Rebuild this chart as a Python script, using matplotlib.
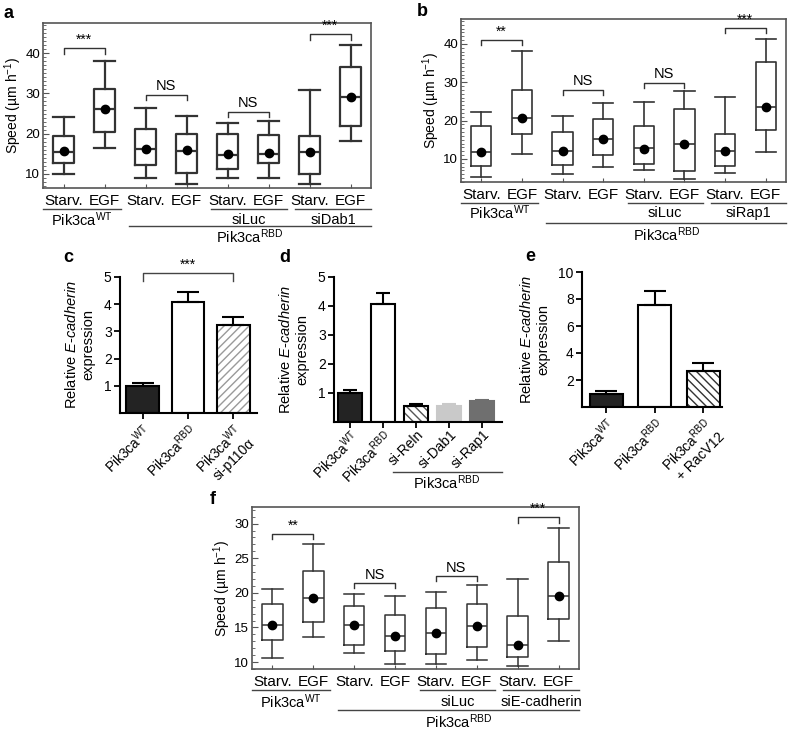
import matplotlib
matplotlib.use("Agg")
import matplotlib.pyplot as plt
from matplotlib.ticker import MultipleLocator

plt.rcParams["font.family"] = ["Liberation Sans", "DejaVu Sans"]
plt.rcParams["mathtext.fontset"] = "custom"
plt.rcParams["mathtext.rm"] = "Liberation Sans"
plt.rcParams["mathtext.it"] = "Liberation Sans:italic"
plt.rcParams["mathtext.default"] = "regular"
plt.rcParams["hatch.linewidth"] = 1.0

# ---- box panels (a, b, f) ----
box_ticklabels = ["Starv.", "EGF"] * 4
WT = "Pik3ca$^{WT}$"
RBD = "Pik3ca$^{RBD}$"

a_med = [15.5, 26.1, 16.1, 15.8, 14.7, 14.9, 15.4, 29.0]
a_q1 = [12.6, 20.4, 12.1, 10.3, 11.1, 12.6, 10.1, 21.9]
a_q3 = [19.4, 31.1, 21.1, 19.8, 19.8, 19.7, 19.5, 36.6]
a_lo = [10.1, 16.4, 8.9, 7.6, 9.1, 9.1, 7.4, 18.2]
a_hi = [24.2, 38.1, 26.3, 24.4, 22.6, 23.2, 30.8, 42.1]
a_mean = [15.6, 26.1, 16.1, 15.9, 14.9, 15.1, 15.4, 29.0]
a_sig = [(1, 2, 41.2, "***"), (3, 4, 29.6, "NS"), (5, 6, 25.4, "NS"), (7, 8, 44.7, "***")]
a_groups = [(WT, 0.5, 2.4, 1), ("siLuc", 4.6, 6.45, 1), ("siDab1", 6.65, 8.5, 1), (RBD, 2.6, 8.5, 2)]

b_med = [11.8, 20.6, 12.2, 15.2, 12.9, 13.8, 12.2, 23.6]
b_q1 = [8.1, 16.4, 8.5, 11.1, 8.7, 6.9, 8.3, 17.5]
b_q3 = [18.7, 28.1, 17.0, 20.3, 18.5, 23.1, 16.6, 35.4]
b_lo = [5.3, 11.4, 6.0, 7.9, 7.2, 4.8, 6.3, 11.9]
b_hi = [22.2, 38.2, 21.2, 24.5, 24.8, 27.7, 26.1, 41.4]
b_mean = [11.8, 20.6, 12.2, 15.2, 12.7, 13.8, 12.2, 23.6]
b_sig = [(1, 2, 41.0, "**"), (3, 4, 28.1, "NS"), (5, 6, 29.9, "NS"), (7, 8, 44.1, "***")]
b_groups = [(WT, 0.5, 2.4, 1), ("siLuc", 4.6, 6.45, 1), ("siRap1", 6.65, 8.5, 1), (RBD, 2.6, 8.5, 2)]

f_med = [15.3, 19.3, 15.4, 13.8, 14.2, 15.2, 12.4, 19.6]
f_q1 = [13.2, 15.85, 12.45, 11.6, 11.2, 12.25, 10.7, 16.2]
f_q3 = [18.35, 23.2, 18.15, 16.75, 17.85, 18.35, 16.65, 24.5]
f_lo = [10.6, 13.65, 11.3, 9.75, 9.75, 10.35, 9.45, 13.1]
f_hi = [20.5, 27.0, 19.8, 19.6, 20.1, 21.1, 22.0, 29.4]
f_mean = [15.3, 19.3, 15.4, 13.8, 14.2, 15.2, 12.4, 19.6]
f_sig = [(1, 2, 28.5, "**"), (3, 4, 21.4, "NS"), (5, 6, 22.4, "NS"), (7, 8, 30.9, "***")]
f_groups = [(WT, 0.5, 2.4, 1), ("siLuc", 4.6, 6.45, 1), ("siE-cadherin", 6.65, 8.5, 1), (RBD, 2.6, 8.5, 2)]

# ---- bar panels (c, d, e) ----
c_labels = [WT, RBD, WT + "\nsi-p110α"]
c_vals = [1.0, 4.07, 3.23]
c_errs = [0.1, 0.38, 0.29]

d_labels = [WT, RBD, "si-Reln", "si-Dab1", "si-Rap1"]
d_vals = [1.0, 4.07, 0.55, 0.55, 0.71]
d_errs = [0.1, 0.37, 0.06, 0.06, 0.06]

e_labels = [WT, RBD, RBD + "\n+ RacV12"]
e_vals = [1.0, 7.53, 2.68]
e_errs = [0.18, 1.06, 0.6]

W, H = 788, 730
fig = plt.figure(figsize=(W / 100, H / 100), dpi=100)

BOXC = "#333333"
FRAME = "#555555"
YLAB_BAR = "Relative $\\mathit{E}$-$\\mathit{cadherin}$\nexpression"


def px_axes(l, t, r, b):
    return fig.add_axes([l / W, 1 - b / H, (r - l) / W, (b - t) / H])


def box_panel(rect, med, q1, q3, lo, hi, mean, ylim, yticks, sig, groups, offs, lw):
    ax = px_axes(*rect)
    h = rect[3] - rect[1]
    stats = []
    for i in range(len(med)):
        stats.append(dict(med=med[i], q1=q1[i], q3=q3[i], whislo=lo[i], whishi=hi[i], mean=mean[i]))
    line = dict(color=BOXC, linewidth=lw)
    ax.bxp(stats, positions=range(1, 9), widths=0.5, capwidths=0.5, showmeans=True,
           showfliers=False, boxprops=line, whiskerprops=line, capprops=line,
           medianprops=line,
           meanprops=dict(marker="o", markerfacecolor="black", markeredgecolor="black", markersize=6))
    ax.set_xlim(0.5, 8.5)
    ax.set_ylim(*ylim)
    ax.set_yticks(yticks)
    ax.yaxis.set_minor_locator(MultipleLocator(1))
    ax.tick_params(axis="y", which="major", direction="in", length=4, labelsize=9.5, color=FRAME, pad=2)
    ax.tick_params(axis="y", which="minor", direction="in", length=2, color=FRAME)
    ax.set_xticks(range(1, 9), box_ticklabels)
    ax.tick_params(axis="x", direction="in", length=3, labelsize=11, color=FRAME, pad=4)
    for s in ax.spines.values():
        s.set_color(FRAME)
        s.set_linewidth(1.2)
    ax.set_ylabel("Speed (µm h$^{-1}$)", fontsize=10, labelpad=1)

    drop = 0.032 * (ylim[1] - ylim[0])
    for x1, x2, y, txt in sig:
        ax.plot([x1, x1, x2, x2], [y - drop, y, y, y - drop], color=BOXC, lw=1.0, clip_on=False)
        if txt == "NS":
            ax.text((x1 + x2) / 2, y + drop * 0.3, txt, ha="center", va="bottom", fontsize=10.5)
        else:
            ax.text((x1 + x2) / 2, y + drop * 0.3, txt, ha="center", va="bottom", fontsize=10)

    tr = ax.get_xaxis_transform()
    for txt, x1, x2, row in groups:
        ly = -offs[2 * (row - 1)] / h
        ty = -offs[2 * (row - 1) + 1] / h
        ax.plot([x1, x2], [ly, ly], color="#444444", lw=1.0, transform=tr, clip_on=False)
        ax.text((x1 + x2) / 2, ty, txt, ha="center", va="center", fontsize=10.5, transform=tr)
    return ax


def bar_panel(rect, labels, vals, errs, ylim, yticks, xlim, width, styles, capsize, xpad=2):
    ax = px_axes(*rect)
    x = list(range(len(vals)))
    for i in x:
        fc, hatch, hc, ec = styles[i]
        if hatch:
            ax.bar(x[i], vals[i], width=width, color=fc, hatch=hatch, edgecolor=hc, linewidth=0)
            ax.bar(x[i], vals[i], width=width, fill=False, edgecolor=ec, linewidth=1.5)
        else:
            ax.bar(x[i], vals[i], width=width, color=fc, edgecolor=ec, linewidth=1.5)
        ax.errorbar(x[i], vals[i], yerr=[[0], [errs[i]]], fmt="none", ecolor=ec,
                    elinewidth=1.5, capsize=capsize, capthick=1.5)
    ax.set_xlim(*xlim)
    ax.set_ylim(*ylim)
    ax.set_yticks(yticks)
    ax.set_xticks(x)
    ax.set_xticklabels(labels, rotation=45, ha="right", va="top", rotation_mode="anchor", fontsize=9)
    ax.spines["top"].set_visible(False)
    ax.spines["right"].set_visible(False)
    for s in ("left", "bottom"):
        ax.spines[s].set_linewidth(1.5)
    ax.tick_params(direction="out", length=4, width=1.3, labelsize=10, pad=2)
    ax.tick_params(axis="x", pad=xpad)
    ax.set_ylabel(YLAB_BAR, fontsize=10.5, labelpad=6)
    return ax


# a
box_panel((43, 23, 371, 188), a_med, a_q1, a_q3, a_lo, a_hi, a_mean, (6.5, 47.5),
          [10, 20, 30, 40], a_sig, a_groups, [21, 32, 38, 49], 1.6)
# b
box_panel((461, 19, 786, 182), b_med, b_q1, b_q3, b_lo, b_hi, b_mean, (4.0, 46.5),
          [10, 20, 30, 40], b_sig, b_groups, [21, 31, 41, 53], 1.2)
# f
box_panel((252, 507, 579, 669), f_med, f_q1, f_q3, f_lo, f_hi, f_mean, (9.0, 32.4),
          [10, 15, 20, 25, 30], f_sig, f_groups, [21, 33, 41, 53], 1.1)

# c
ax_c = bar_panel((120, 277, 257, 413), c_labels, c_vals, c_errs, (0, 5), [1, 2, 3, 4, 5],
                 (-0.5, 2.52), 0.72,
                 [("#232323", None, None, "black"), ("white", None, None, "black"),
                  ("white", "////", "#9a9a9a", "black")], 8)
ax_c.plot([0, 0, 2, 2], [4.85, 5.14, 5.14, 4.85], color="#444444", lw=1.0, clip_on=False)
ax_c.text(1, 5.2, "***", ha="center", va="bottom", fontsize=10)

# d
ax_d = bar_panel((334, 277, 502, 422), d_labels, d_vals, d_errs, (0, 5), [1, 2, 3, 4, 5],
                 (-0.48, 4.6), 0.72,
                 [("#232323", None, None, "black"), ("white", None, None, "black"),
                  ("white", "\\\\\\\\", "#555555", "black"), ("#c9c9c9", None, None, "#c9c9c9"),
                  ("#6f6f6f", None, None, "#6f6f6f")], 5, xpad=0)
tr = ax_d.get_xaxis_transform()
ax_d.plot([1.29, 4.6], [-50 / 145, -50 / 145], color="#444444", lw=1.0, transform=tr, clip_on=False)
ax_d.text(2.93, -61 / 145, RBD, ha="center", va="center", fontsize=10.5, transform=tr)

# e
bar_panel((582, 272, 722, 407), e_labels, e_vals, e_errs, (0, 10), [2, 4, 6, 8, 10],
          (-0.5, 2.39), 0.68,
          [("#232323", None, None, "black"), ("white", None, None, "black"),
           ("white", "\\\\\\\\", "#333333", "black")], 8)

# panel letters
for lx, ly, s in [(9, 13, "a"), (422, 11, "b"), (68, 258, "c"), (285, 258, "d"),
                  (530, 257, "e"), (213, 500, "f")]:
    fig.text(lx / W, 1 - ly / H, s, fontsize=13, fontweight="bold", ha="center", va="center")

fig.savefig("out.png", dpi=100)
